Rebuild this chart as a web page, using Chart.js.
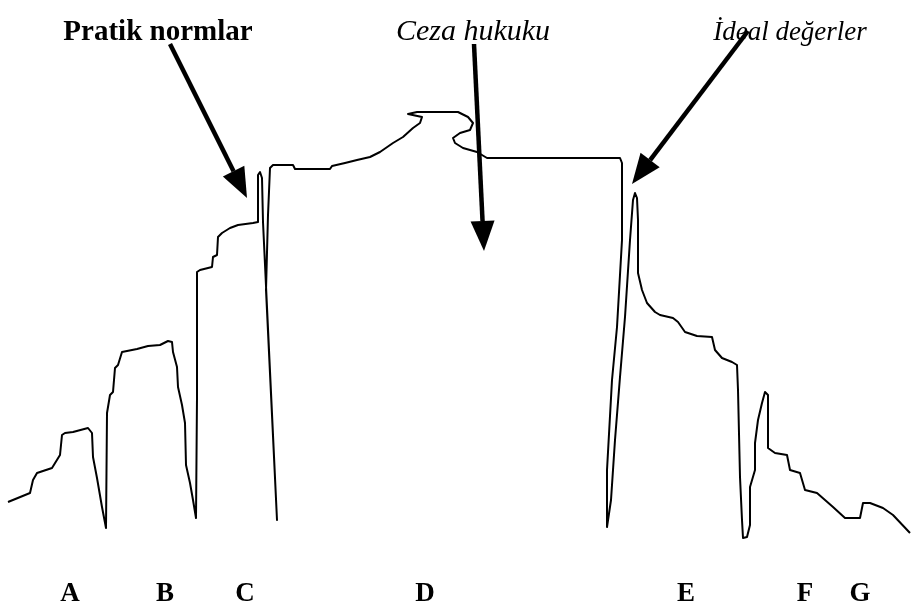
<!DOCTYPE html>
<html>
<head>
<meta charset="utf-8">
<script src="https://cdn.jsdelivr.net/npm/chart.js@4.4.1/dist/chart.umd.min.js"></script>
<style>
  html, body { margin: 0; padding: 0; background: #fff; }
  #wrap { width: 913px; height: 610px; }
</style>
</head>
<body>
<div id="wrap"><canvas id="curve"></canvas></div>
<script>
// traced curve, x along the scale, y measured downward
const curveX = [8, 30, 33, 37, 52, 60, 62, 65, 73, 88, 92, 93, 97, 102, 106, 107, 110, 113, 115, 118, 122, 137, 148, 160, 168, 172, 173, 177, 178, 182, 185, 186, 190, 193, 196, 197, 197, 197, 200, 212, 213, 217, 218, 222, 230, 238, 253, 258, 258, 260, 262, 263, 277, 266, 268, 270, 273, 293, 295, 330, 332, 345, 357, 370, 380, 393, 403, 413, 420, 422, 408, 417, 458, 468, 473, 470, 460, 453, 455, 463, 477, 487, 500, 595, 620, 622, 622, 617, 612, 607, 607, 611, 615, 620, 625, 630, 633, 635, 637, 638, 638, 642, 647, 655, 660, 673, 678, 685, 697, 712, 715, 722, 732, 737, 738, 740, 742, 743, 747, 750, 750, 755, 755, 758, 762, 765, 768, 768, 775, 787, 790, 800, 805, 817, 833, 845, 860, 863, 870, 883, 893, 910];
const curveY = [502, 493, 480, 473, 468, 455, 435, 433, 432, 428, 433, 457, 478, 507, 528, 413, 395, 392, 368, 365, 352, 349, 346, 345, 341, 342, 352, 367, 387, 405, 423, 465, 483, 500, 518, 397, 290, 272, 270, 267, 257, 255, 237, 233, 228, 225, 223, 222, 175, 172, 178, 222, 520, 290, 215, 168, 165, 165, 169, 169, 166, 163, 160, 157, 152, 143, 137, 128, 123, 117, 114, 112, 112, 117, 123, 130, 133, 138, 143, 148, 152, 158, 158, 158, 158, 163, 240, 327, 380, 470, 527, 500, 440, 377, 317, 240, 200, 193, 198, 220, 273, 290, 303, 312, 315, 318, 322, 332, 336, 337, 350, 358, 362, 365, 390, 477, 520, 538, 537, 525, 487, 470, 443, 420, 403, 392, 395, 448, 453, 455, 470, 473, 490, 493, 507, 518, 518, 503, 503, 508, 515, 533];

// region letters under the curve
const regionLabels = ['A', 'B', 'C', 'D', 'E', 'F', 'G'];
const regionX = [70, 165, 245, 425, 686, 805, 860];

// captions with their arrows
const captions = ['Pratik normlar', 'Ceza hukuku', 'İdeal değerler'];
const captionStyle = ['bold', 'italic', 'italic'];
const captionSize = [29, 30, 27];
const captionX = [158, 473, 790];
const captionY = [40, 40, 40];
const arrowFrom = [[170, 44], [474, 44], [748, 31]];
const arrowTo = [[247, 198], [484, 251], [632, 184]];

const points = curveX.map((x, i) => ({ x: x, y: curveY[i] }));

const captionPlugin = {
    id: 'captions',
    afterDatasetsDraw(chart) {
        const ctx = chart.ctx;
        const xs = chart.scales.x, ys = chart.scales.y;
        ctx.save();
        ctx.fillStyle = '#000';
        ctx.strokeStyle = '#000';
        ctx.textAlign = 'center';
        ctx.textBaseline = 'alphabetic';
        captions.forEach((text, i) => {
            ctx.font = captionStyle[i] + ' ' + captionSize[i] + 'px "Liberation Serif", serif';
            ctx.fillText(text, xs.getPixelForValue(captionX[i]), ys.getPixelForValue(captionY[i]));
        });
        arrowFrom.forEach((from, i) => {
            const x0 = xs.getPixelForValue(from[0]), y0 = ys.getPixelForValue(from[1]);
            const x1 = xs.getPixelForValue(arrowTo[i][0]), y1 = ys.getPixelForValue(arrowTo[i][1]);
            const a = Math.atan2(y1 - y0, x1 - x0);
            const headLen = 30, headW = 12;
            const bx = x1 - headLen * Math.cos(a), by = y1 - headLen * Math.sin(a);
            ctx.lineWidth = 4.5;
            ctx.beginPath();
            ctx.moveTo(x0, y0);
            ctx.lineTo(bx, by);
            ctx.stroke();
            ctx.beginPath();
            ctx.moveTo(x1, y1);
            ctx.lineTo(bx + headW * Math.sin(a), by - headW * Math.cos(a));
            ctx.lineTo(bx - headW * Math.sin(a), by + headW * Math.cos(a));
            ctx.closePath();
            ctx.fill();
        });
        ctx.restore();
    }
};

new Chart(document.getElementById('curve'), {
    type: 'scatter',
    data: {
        datasets: [{
            data: points,
            showLine: true,
            borderColor: '#000',
            borderWidth: 2,
            borderJoinStyle: 'round',
            pointRadius: 0,
            tension: 0
        }]
    },
    options: {
        responsive: true,
        maintainAspectRatio: false,
        animation: false,
        layout: { padding: 0 },
        plugins: {
            legend: { display: false },
            tooltip: { enabled: false }
        },
        scales: {
            x: {
                type: 'linear',
                min: 0,
                max: 913,
                grid: { display: false, drawTicks: false },
                border: { display: false },
                afterBuildTicks: scale => {
                    scale.ticks = regionX.map(v => ({ value: v }));
                },
                ticks: {
                    autoSkip: false,
                    maxRotation: 0,
                    padding: 0,
                    color: '#000',
                    font: { family: '"Liberation Serif", serif', size: 27, weight: 'bold' },
                    callback: value => regionLabels[regionX.indexOf(value)]
                }
            },
            y: {
                display: false,
                reverse: true,
                min: 0,
                max: 577.6
            }
        }
    },
    plugins: [captionPlugin]
});
</script>
</body>
</html>
